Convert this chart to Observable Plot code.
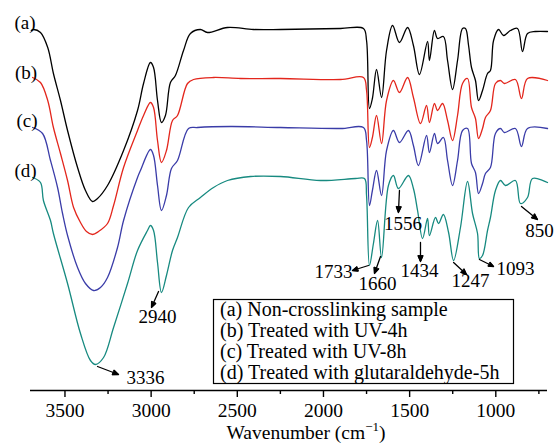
<!DOCTYPE html>
<html><head><meta charset="utf-8">
<script src="https://cdn.jsdelivr.net/npm/d3@7"></script>
<script src="https://cdn.jsdelivr.net/npm/@observablehq/plot@0.6"></script>
<style>html,body{margin:0;padding:0;background:#fff;} #chart{width:555px;height:443px;}</style>
</head><body><div id="chart"></div>
<script>
// ---- data (wavenumber in cm^-1, transmittance in arbitrary offset units) ----
const seriesNames = ["(a) Non-crosslinking sample", "(b) Treated with UV-4h", "(c) Treated with UV-8h", "(d) Treated with glutaraldehyde-5h"];
const seriesTags = ["(a)", "(b)", "(c)", "(d)"];
const tagWavenumbers = [3793, 3790, 3781, 3793];
const tagValues = [368, 318, 270, 220];

const wnA = [3695,3683,3642,3600,3567,3526,3485,3427,3381,3340,3311,3253,3160,3079,3044,3004,2986,2963,2940,2917,2888,2859,2812,2772,2714,2673,2557,2406,2249,1901,1768,1750,1733,1716,1692,1663,1634,1599,1559,1512,1478,1443,1396,1385,1356,1338,1304,1280,1251,1222,1193,1176,1158,1141,1118,1100,1077,1048,1031,1013,984,955,915,874,845,816,770,700];
const tA  = [360,361,358,343,317,290,260,223,200,189,192,205,240,280,307,328,323,290,268,275,308,315,340,357,361,358,363,361,361,362,362,350,282,292,321,293,340,365,348,363,345,316,349,330,360,352,354,330,301,330,362,362,345,323,310,290,300,317,320,350,361,355,360,362,339,357,359,359];

const wnB = [3688,3642,3600,3567,3526,3485,3450,3410,3375,3340,3305,3253,3218,3160,3079,3044,3004,2986,2963,2940,2911,2876,2847,2789,2754,2638,2481,2249,1901,1768,1750,1733,1716,1692,1663,1634,1594,1559,1512,1478,1437,1402,1385,1356,1338,1309,1280,1251,1222,1193,1164,1141,1118,1100,1077,1060,1031,1002,973,950,886,851,816,700];
const tB  = [313,308,290,263,237,210,183,168,159,156,159,167,185,223,260,275,288,283,250,228,240,270,275,307,311,313,312,312,311,313,300,243,253,275,247,290,310,298,313,293,267,285,268,287,280,287,270,250,275,307,312,283,272,252,262,273,280,307,310,307,311,292,312,310];

const wnC = [3688,3630,3584,3543,3514,3485,3427,3381,3334,3294,3253,3195,3160,3079,3062,3004,2986,2963,2940,2911,2882,2847,2783,2731,2539,2249,1901,1768,1750,1733,1716,1692,1663,1634,1594,1559,1507,1478,1449,1402,1385,1356,1338,1304,1280,1251,1222,1193,1164,1141,1118,1100,1077,1060,1031,1002,973,950,886,851,816,700];
const tC  = [263,257,230,203,177,155,123,107,100,103,113,143,170,213,220,241,235,205,180,195,222,230,262,263,264,263,262,263,250,185,200,220,195,240,260,248,260,245,225,255,238,257,247,253,230,205,230,260,262,227,218,197,207,217,223,257,262,258,262,244,262,262];

const wnD = [3688,3642,3625,3584,3567,3485,3410,3352,3323,3276,3218,3137,3079,3021,3004,2986,2963,2940,2911,2876,2847,2783,2714,2638,2557,2423,2249,2017,1814,1762,1750,1733,1710,1686,1663,1623,1594,1565,1507,1478,1454,1425,1396,1385,1350,1332,1304,1274,1245,1205,1164,1135,1106,1095,1077,1048,1031,1002,973,944,886,857,816,787,700];
const tD  = [213,208,190,170,157,107,57,30,26,33,63,107,140,160,165,160,128,98,115,140,153,183,193,203,210,214,214,210,212,212,195,125,147,170,133,205,215,202,215,202,180,152,172,155,173,167,176,158,130,163,209,177,157,132,135,160,173,200,210,205,210,187,193,212,208];

// peak annotations: label, curve point (arrow tail), arrow head, label position
const peakLabels   = ["3336","2940","1733","1660","1556","1434","1247","1093","850"];
const arrowFromWn  = [3311,2957,1739,1669,1559,1437,1245,1095,851];
const arrowFromT   = [24,99,125,134,200,148,128,131,184];
const arrowToWn    = [3189,2998,1832,1704,1565,1437,1170,1013,758];
const arrowToT     = [16,83,120,117,178,129,116,124,171];
const labelWn      = [3033,2963,1942,1686,1538,1443,1147,886,746];
const labelT       = [13,74,119,107,167,120,110,122,160];

const majorTicks = [3500,3000,2500,2000,1500,1000];
const minorTicks = [3250,2750,2250,1750,1250,750];
const xDomain = [3700, 700];

// ---- build tables ----
const curves = [[wnA,tA],[wnB,tB],[wnC,tC],[wnD,tD]];
const rows = curves.flatMap(([w,t],i) => w.map((x,j) => ({series: seriesNames[i], wn: x, t: t[j]})));
const tags = seriesTags.map((s,i) => ({s, wn: tagWavenumbers[i], t: tagValues[i]}));
const peaks = peakLabels.map((s,i) => ({s, x1: arrowFromWn[i], y1: arrowFromT[i], x2: arrowToWn[i], y2: arrowToT[i], lx: labelWn[i], ly: labelT[i]}));

const colors = ["#000000", "#e3261c", "#3a3ca8", "#178a80"];
const serif = "Liberation Serif, Times New Roman, serif";

const chart = Plot.plot({
  width: 555, height: 443,
  marginLeft: 30, marginRight: 8, marginTop: 0, marginBottom: 53,
  style: {fontFamily: serif, background: "#fff", color: "#000"},
  x: {domain: xDomain},
  y: {domain: [0, 390], axis: null},
  color: {domain: seriesNames, range: colors},
  marks: [
    Plot.line(rows, {x: "wn", y: "t", z: "series", stroke: "series", curve: "catmull-rom", strokeWidth: 1.3}),
    Plot.ruleY([0], {stroke: "#000", strokeWidth: 1.5}),
    Plot.axisX({ticks: majorTicks, tickSize: 7, tickPadding: 6, tickFormat: d => String(d), fontSize: 19.5, fontFamily: serif, label: null, strokeWidth: 1.4}),
    Plot.axisX({ticks: minorTicks, tickSize: 4, text: null, label: null, strokeWidth: 1.4}),
    Plot.text(tags, {x: "wn", y: "t", text: "s", textAnchor: "start", fontSize: 19, fontFamily: serif}),
    Plot.arrow(peaks, {x1: "x1", y1: "y1", x2: "x2", y2: "y2", stroke: "#000", strokeWidth: 1.3, headLength: 7, headAngle: 45, insetStart: 0, insetEnd: 0}),
    Plot.text(peaks, {x: "lx", y: "ly", text: "s", fontSize: 19, fontFamily: serif})
  ]
});
document.getElementById("chart").appendChild(chart);

const svg = d3.select(chart);
// fill the arrowheads (the reference uses solid triangular heads)
svg.selectAll("g[aria-label='arrow'] path").each(function() {
  const nums = (this.getAttribute("d") || "").match(/-?\d*\.?\d+(e-?\d+)?/g);
  if (!nums || nums.length < 10) return;
  const n = nums.map(Number);
  const pts = [[n[4], n[5]], [n[6], n[7]], [n[8], n[9]]];
  d3.select(this.parentNode).append("polygon")
    .attr("points", pts.map(p => p.join(",")).join(" "))
    .attr("fill", "#000").attr("stroke", "#000").attr("stroke-width", 1);
});

// legend box and axis title
const lg = svg.append("g").attr("font-family", serif).attr("font-size", 20).attr("text-anchor", "start");
lg.append("rect").attr("x", 213.5).attr("y", 299.5).attr("width", 300).attr("height", 84)
  .attr("fill", "#fff").attr("stroke", "#000").attr("stroke-width", 1.2);
seriesNames.forEach((n, i) => {
  lg.append("text").attr("x", 220).attr("y", 310 + i * 21).attr("dy", "0.32em").attr("text-anchor", "start").text(n);
});
const title = svg.append("text").attr("x", 306).attr("y", 439).attr("text-anchor", "middle")
  .attr("font-family", serif).attr("font-size", 19.5);
title.append("tspan").text("Wavenumber (cm");
title.append("tspan").attr("font-size", 13).attr("dy", -8).text("\u22121");
title.append("tspan").attr("dy", 8).text(")");
</script></body></html>
